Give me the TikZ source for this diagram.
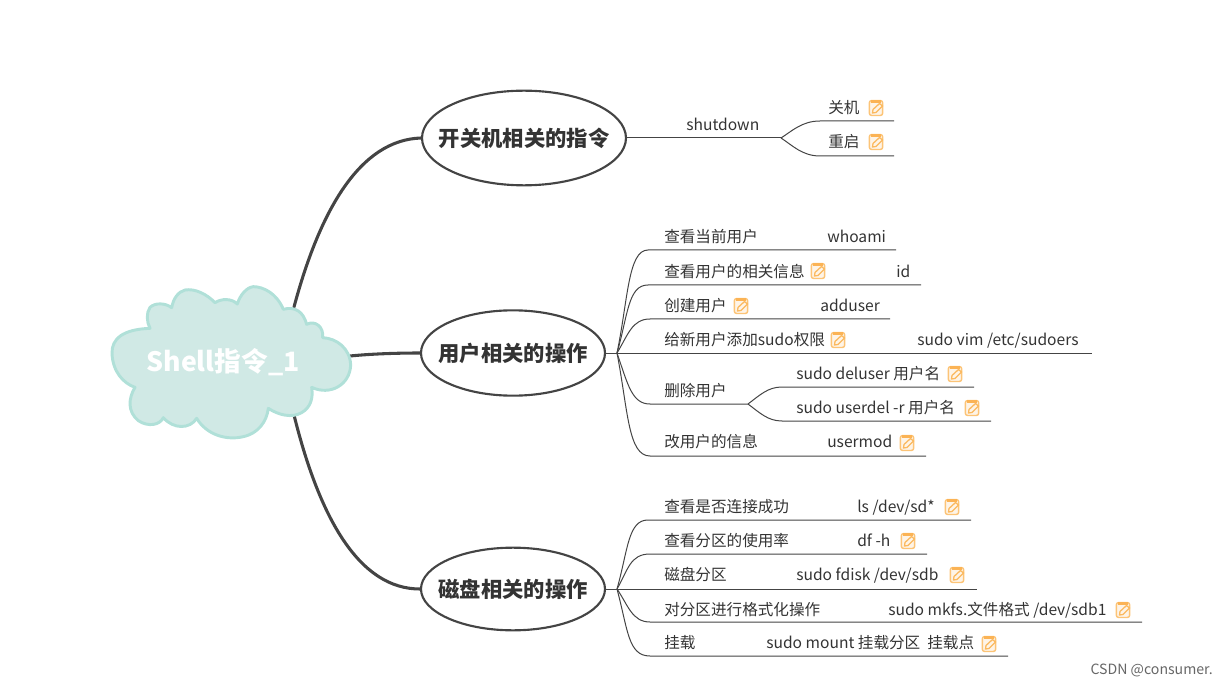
\documentclass[tikz,border=0pt]{standalone}
\usepackage{fontspec}
\setmainfont{Noto Sans CJK SC}
\usetikzlibrary{shapes.geometric}
\definecolor{ink}{HTML}{444444}
\definecolor{txt}{HTML}{333333}
\definecolor{cloudf}{HTML}{D0E9E5}
\definecolor{cloudb}{HTML}{B0E0D8}
\definecolor{noteo}{HTML}{FBB95F}
\tikzset{
  leaf/.style={anchor=base west,inner sep=0pt,yshift=-0.6pt,text=txt,font=\fontsize{11.7}{14}\selectfont},
  topic/.style={draw=ink,line width=1.6pt,ellipse,inner sep=0pt,text=txt,font=\fontsize{16}{20}\selectfont\bfseries},
  main/.style={draw=ink,line width=2.3pt,line cap=round},
  twig/.style={draw=ink,line width=0.75pt},
  notepic/.pic={
    \draw[noteo!85,fill=noteo!15,line width=1.1pt,rounded corners=1.8pt] (-6.7,-7.5) rectangle (6.7,7.5);
    \fill[noteo!90!orange] (-5,-7.8) rectangle (4.5,-5.2);
    \draw[noteo,line width=0.95pt] (-3.5,5) -- (-3,1.5) -- (3.5,-4.5) -- (6.5,-2) -- (0,4.5) -- cycle;
  }
}
\begin{document}
\begin{tikzpicture}[x=0.75pt,y=-0.75pt]
\useasboundingbox (0,0) rectangle (1228,684);
% topics
\node[topic,minimum width=153pt,minimum height=71pt] (t1) at (524,138) {\makebox[0pt]{开关机相关的指令}};
\node[topic,minimum width=138pt,minimum height=64pt] (t2) at (513,353) {\makebox[0pt]{用户相关的操作}};
\node[topic,minimum width=138pt,minimum height=62pt] (t3) at (513,589) {\makebox[0pt]{磁盘相关的操作}};
% cloud anchors
\coordinate (c1) at (294,307);
\coordinate (c2) at (350,356);
\coordinate (c3) at (294,415);
\draw[main] (c1) .. controls (320,210) and (360,140) .. (t1.west);
\draw[main] (c2) .. controls (370,354) and (395,353) .. (t2.west);
\draw[main] (c3) .. controls (320,520) and (360,589) .. (t3.west);
% cloud
\begin{scope}[shift={(100,270)},x=0.25pt,y=-0.25pt]
\draw[fill=cloudf,draw=cloudb,line width=2.2pt,line join=round]
 (150,175) .. controls (70,178) and (35,205) .. (36,250)
 .. controls (38,305) and (70,340) .. (105,352)
 .. controls (85,385) and (82,425) .. (115,452)
 .. controls (145,472) and (180,465) .. (190,443)
 .. controls (220,478) and (270,478) .. (290,445)
 .. controls (320,495) and (380,512) .. (430,500)
 .. controls (475,490) and (500,455) .. (505,415)
 .. controls (535,435) and (575,445) .. (605,428)
 .. controls (632,412) and (640,385) .. (635,352)
 .. controls (690,378) and (750,345) .. (752,285)
 .. controls (750,235) and (710,205) .. (668,203)
 .. controls (672,170) and (645,150) .. (620,163)
 .. controls (610,125) and (585,108) .. (550,118)
 .. controls (530,70) and (490,50) .. (460,50)
 .. controls (440,52) and (420,75) .. (412,102)
 .. controls (395,85) and (365,85) .. (345,98)
 .. controls (320,72) and (285,55) .. (255,60)
 .. controls (235,65) and (220,85) .. (215,113)
 .. controls (195,98) and (165,98) .. (150,112)
 .. controls (138,130) and (140,155) .. (150,175) -- cycle;
\end{scope}
\node[inner sep=0pt,text=white,font=\fontsize{20}{24}\selectfont\bfseries] (root) at (223,362) {Shell指令\_1};
% group 1
\coordinate (h1) at (781,138);
\coordinate (a1) at (894,121);
\coordinate (a2) at (894,156);
\draw[twig] (t1.east) -- (h1);
\draw[twig] (h1) .. controls (792,131) and (802,121) .. (820,121) -- (a1);
\draw[twig] (h1) .. controls (792,145) and (802,156) .. (820,156) -- (a2);
\node[leaf] (s0) at (686,130) {shutdown};
\node[leaf] (s1) at (828,113) {关机};
\node[leaf] (s2) at (828,147) {重启};
\pic at (876,108) {notepic};
\pic at (876,142) {notepic};
% group 2
\coordinate (h2) at (617,353);
\draw[twig] (t2.east) -- (h2);
\coordinate (b1) at (896,250);
\coordinate (b2) at (921,285);
\coordinate (b3) at (890,319);
\coordinate (b4) at (1092,353);
\coordinate (b5) at (748,404);
\coordinate (b6) at (926,456);
\draw[twig] (h2) .. controls (628,300) and (628,250) .. (648,250) -- (b1);
\draw[twig] (h2) .. controls (628,315) and (628,285) .. (648,285) -- (b2);
\draw[twig] (h2) .. controls (628,335) and (632,319) .. (650,319) -- (b3);
\draw[twig] (h2) -- (b4);
\draw[twig] (h2) .. controls (628,385) and (632,404) .. (650,404) -- (b5);
\draw[twig] (h2) .. controls (628,410) and (628,456) .. (650,456) -- (b6);
\coordinate (d1) at (974,387);
\coordinate (d2) at (991,421);
\draw[twig] (b5) .. controls (760,395) and (768,387) .. (782,387) -- (d1);
\draw[twig] (b5) .. controls (760,413) and (768,421) .. (782,421) -- (d2);
\node[leaf] (u1) at (664,242) {查看当前用户};
\node[leaf] (u1b) at (827,242) {whoami};
\node[leaf] (u2) at (664,277) {查看用户的相关信息};
\node[leaf] (u2b) at (896,277) {id};
\node[leaf] (u3) at (664,311) {创建用户};
\node[leaf] (u3b) at (820,311) {adduser};
\node[leaf] (u4) at (664,345) {给新用户添加sudo权限};
\node[leaf] (u4b) at (917,345) {sudo vim /etc/sudoers};
\node[leaf] (u5) at (664,396) {删除用户};
\node[leaf] (u5a) at (796,379) {sudo deluser 用户名};
\node[leaf] (u5b) at (796,413) {sudo userdel -r 用户名};
\node[leaf] (u6) at (664,447) {改用户的信息};
\node[leaf] (u6b) at (827,447) {usermod};
\pic at (818,271) {notepic};
\pic at (741,306) {notepic};
\pic at (838,340) {notepic};
\pic at (955,374) {notepic};
\pic at (972,408) {notepic};
\pic at (907,443) {notepic};
% group 3
\coordinate (h3) at (617,589);
\draw[twig] (t3.east) -- (h3);
\coordinate (e1) at (971,520);
\coordinate (e2) at (927,554);
\coordinate (e3) at (977,589);
\coordinate (e4) at (1142,622);
\coordinate (e5) at (1008,656);
\draw[twig] (h3) .. controls (628,550) and (628,520) .. (648,520) -- (e1);
\draw[twig] (h3) .. controls (628,570) and (630,554) .. (650,554) -- (e2);
\draw[twig] (h3) -- (e3);
\draw[twig] (h3) .. controls (628,605) and (632,622) .. (650,622) -- (e4);
\draw[twig] (h3) .. controls (628,630) and (628,656) .. (650,656) -- (e5);
\node[leaf] (v1) at (664,512) {查看是否连接成功};
\node[leaf] (v1b) at (857,512) {ls /dev/sd*};
\node[leaf] (v2) at (664,546) {查看分区的使用率};
\node[leaf] (v2b) at (857,546) {df -h};
\node[leaf] (v3) at (664,580) {磁盘分区};
\node[leaf] (v3b) at (796,580) {sudo fdisk /dev/sdb};
\node[leaf] (v4) at (664,615) {对分区进行格式化操作};
\node[leaf] (v4b) at (888,615) {sudo mkfs.文件格式 /dev/sdb1};
\node[leaf] (v5) at (664,648) {挂载};
\node[leaf] (v5b) at (766,648) {sudo mount 挂载分区 ~挂载点};
\pic at (952,507) {notepic};
\pic at (908,541) {notepic};
\pic at (957,575) {notepic};
\pic at (1123,610) {notepic};
\pic at (989,644) {notepic};
\node[anchor=base east,inner sep=0pt,text=black!60,font=\fontsize{10.6}{12}\selectfont] (wm) at (1213,674) {CSDN @consumer.};
\end{tikzpicture}
\end{document}
